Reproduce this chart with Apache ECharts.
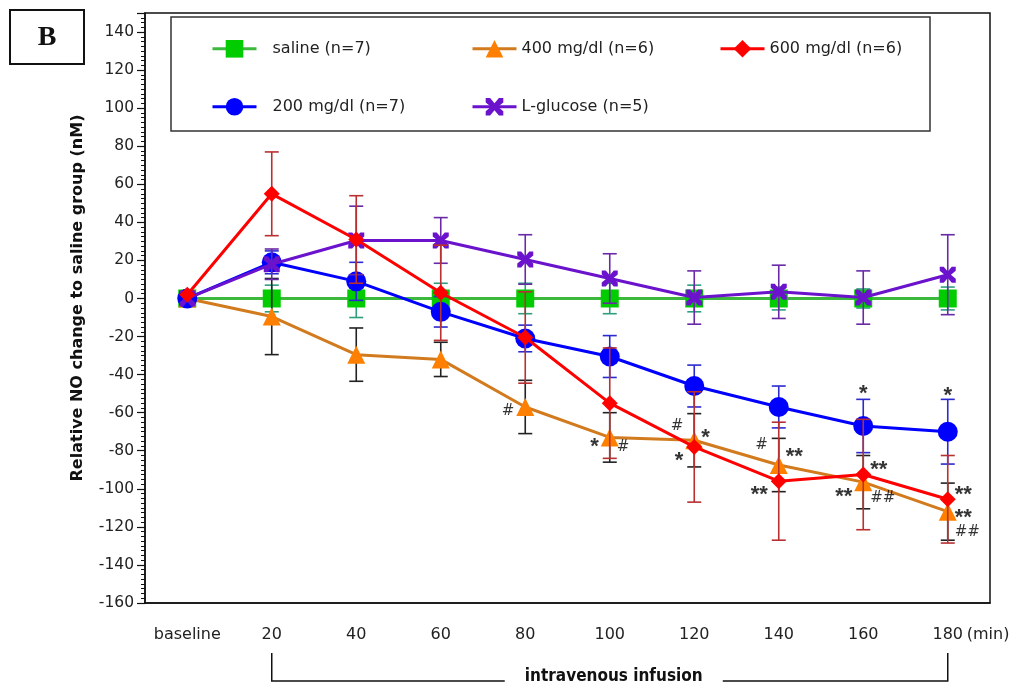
<!DOCTYPE html>
<html>
<head>
<meta charset="utf-8">
<script src="https://cdn.jsdelivr.net/npm/echarts@6/dist/echarts.min.js"></script>
<style>
  html, body { margin: 0; padding: 0; background: #fff; }
  #chart { width: 1012px; height: 685px; }
</style>
</head>
<body>
<div id="chart"></div>
<script>
// time points (min)
const categories = ['baseline', '20', '40', '60', '80', '100', '120', '140', '160', '180']

// group means (nM)
const salineVals = [0, 0, 0, 0, 0, 0, 0, 0, 0, 0]
const mg200Vals = [0, 19, 9, -7, -21, -30.5, -46, -57, -67, -70]
const mg400Vals = [0, -9.5, -29.5, -32, -57, -73, -74.5, -87.5, -96.5, -112]
const mg600Vals = [2, 55, 31, 3, -20.5, -55, -78, -96, -92.5, -105.5]
const lgluVals = [0, 18, 30.5, 30.5, 20.5, 10.5, 0.5, 3.5, 0.5, 12.5]

// error bar half lengths
const salineErr = [0, 7, 10, 8, 8, 8, 7, 6, 5, 6]
const mg200Err = [0, 6, 10, 8, 7, 11, 11, 11, 14, 17]
const mg400Err = [0, 20, 14, 9, 14, 13, 14, 14, 14, 15]
const mg600Err = [0, 22, 23, 25, 24, 29, 29, 31, 29, 23]
const lgluErr = [0, 8, 18, 12, 13, 13, 14, 14, 14, 21]

// y ticks
const yMin = -160
const yMax = 150
const yStep = 20

// significance marks: [time, value, text, side]
const annotations = [
  ['80', -59, '#', 'left'],
  ['100', -75, '*', 'left'],
  ['100', -78, '#', 'right'],
  ['120', -67, '#', 'left'],
  ['120', -70, '*', 'right'],
  ['120', -82, '*', 'left'],
  ['140', -77, '#', 'left'],
  ['140', -80, '**', 'right'],
  ['140', -100, '**', 'left'],
  ['160', -47, '*', 'inside'],
  ['160', -87, '**', 'right'],
  ['160', -101, '**', 'left'],
  ['160', -105, '##', 'right'],
  ['180', -48, '*', 'inside'],
  ['180', -100, '**', 'right'],
  ['180', -112, '**', 'right'],
  ['180', -123, '##', 'right']
]

const cond = '"DejaVu Sans Condensed", "DejaVu Sans", sans-serif'
const dejavu = '"DejaVu Sans", sans-serif'
const sans = '"Liberation Sans", Arial, sans-serif'

const xSymbol = 'path://M0,0 L5,0 L10,6 L15,0 L20,0 L20,5 L14,10 L20,15 L20,20 L15,20 L10,14 L5,20 L0,20 L0,15 L6,10 L0,5 Z'

const groups = [
  { name: 'saline (n=7)', vals: salineVals, err: salineErr, line: '#3cb83c', mark: '#00cc00', bar: '#2e9e7e', symbol: 'rect', size: 18 },
  { name: '400 mg/dl (n=6)', vals: mg400Vals, err: mg400Err, line: '#d27b1e', mark: '#ff8000', bar: '#222222', symbol: 'triangle', size: 18 },
  { name: '200 mg/dl (n=7)', vals: mg200Vals, err: mg200Err, line: '#0000ff', mark: '#0000ff', bar: '#2a2ad0', symbol: 'circle', size: 20 },
  { name: 'L-glucose (n=5)', vals: lgluVals, err: lgluErr, line: '#6a12cc', mark: '#6a12cc', bar: '#6a2aa8', symbol: xSymbol, size: 16 },
  { name: '600 mg/dl (n=6)', vals: mg600Vals, err: mg600Err, line: '#ff0000', mark: '#ff0000', bar: '#b83030', symbol: 'diamond', size: 16 }
]

function errorBarItem (color) {
  return function (params, api) {
    const x = api.value(0)
    const v = api.value(1)
    const e = api.value(2)
    if (!e) return
    const hi = api.coord([x, v + e])
    const lo = api.coord([x, v - e])
    const w = 7
    const style = { stroke: color, lineWidth: 1.6 }
    return {
      type: 'group',
      children: [
        { type: 'line', shape: { x1: hi[0], y1: hi[1], x2: lo[0], y2: lo[1] }, style: style },
        { type: 'line', shape: { x1: hi[0] - w, y1: hi[1], x2: hi[0] + w, y2: hi[1] }, style: style },
        { type: 'line', shape: { x1: lo[0] - w, y1: lo[1], x2: lo[0] + w, y2: lo[1] }, style: style }
      ]
    }
  }
}

const series = []
groups.forEach((g, i) => {
  series.push({
    type: 'custom',
    name: g.name + ' err',
    renderItem: errorBarItem(g.bar),
    encode: { x: 0, y: 1 },
    data: g.vals.map((v, k) => [k, v, g.err[k]]),
    z: 2 + i * 2
  })
})
groups.forEach((g, i) => {
  series.push({
    type: 'line',
    name: g.name,
    data: g.vals,
    symbol: g.symbol,
    symbolSize: g.size,
    showAllSymbol: true,
    lineStyle: { color: g.line, width: 3 },
    itemStyle: { color: g.mark },
    z: 3 + i * 2
  })
})

// significance marks, drawn at their data position
const markData = annotations.map(a => {
  const star = a[2].indexOf('*') >= 0
  return {
    value: [a[0], a[1]],
    text: a[2],
    label: {
      position: a[3],
      distance: a[3] === 'left' ? 11 : 7,
      fontFamily: star ? sans : dejavu,
      fontWeight: star ? 'bold' : 'normal',
      fontSize: star ? 22 : 15,
      offset: star ? [0, 6] : [0, 0]
    }
  }
})
series.push({
  type: 'scatter',
  name: 'marks',
  symbolSize: 0,
  data: markData,
  label: { show: true, color: '#000', formatter: p => p.data.text },
  z: 20
})

const legendPos = [
  { name: 'saline (n=7)', left: 206, top: 35, pad: 11 },
  { name: '400 mg/dl (n=6)', left: 466, top: 35, pad: 0 },
  { name: '600 mg/dl (n=6)', left: 714, top: 35, pad: 0 },
  { name: '200 mg/dl (n=7)', left: 206, top: 93, pad: 11 },
  { name: 'L-glucose (n=5)', left: 466, top: 93, pad: 0 }
]

const chart = echarts.init(document.getElementById('chart'))
chart.setOption({
  animation: false,
  backgroundColor: '#fff',
  grid: {
    left: 145, right: 22, top: 13, bottom: 82,
    show: true, borderColor: '#111', borderWidth: 1.5, backgroundColor: 'transparent'
  },
  legend: legendPos.map(l => ({
    data: [l.name],
    left: l.left,
    top: l.top,
    z: 40,
    itemWidth: 44,
    itemHeight: 22,
    itemGap: 0,
    selectedMode: false,
    lineStyle: { width: 3 },
    textStyle: { fontFamily: dejavu, fontSize: 16, color: '#222', padding: [0, 0, 0, l.pad] }
  })),
  xAxis: {
    type: 'category',
    data: categories,
    boundaryGap: true,
    axisLine: { onZero: false, lineStyle: { color: '#111', width: 1.5 } },
    axisTick: { alignWithLabel: true, interval: 0, length: 10, lineStyle: { color: '#111', width: 1.5 } },
    axisLabel: { interval: 0, margin: 24, fontFamily: dejavu, fontSize: 16, color: '#222' },
    splitLine: { show: false }
  },
  yAxis: {
    type: 'value',
    min: yMin,
    max: yMax,
    interval: yStep,
    axisLine: { show: true, lineStyle: { color: '#111', width: 1.5 } },
    axisTick: { show: true, length: 8, lineStyle: { color: '#111', width: 1.2 } },
    minorTick: { show: true, splitNumber: 8, length: 4, lineStyle: { color: '#111', width: 1 } },
    splitLine: { show: false },
    axisLabel: { margin: 11, fontFamily: dejavu, fontSize: 15.5, color: '#222', showMaxLabel: false,
      formatter: v => (v === yMax ? '' : String(v)) }
  },
  series: series
})

// frame decorations placed from the axis scale
const p20 = chart.convertToPixel({ xAxisIndex: 0 }, '20')
const p180 = chart.convertToPixel({ xAxisIndex: 0 }, '180')
const bracketTop = 653
const bracketBottom = 681
const mid = (p20 + p180) / 2 + 4
chart.setOption({
  graphic: [
    { type: 'rect', shape: { x: 10, y: 10, width: 74, height: 54 }, style: { fill: '#fff', stroke: '#111', lineWidth: 2 } },
    { type: 'text', x: 47, y: 38, style: { text: 'B', font: 'bold 28px "Liberation Serif", serif', fill: '#111', align: 'center', verticalAlign: 'middle' } },
    { type: 'rect', shape: { x: 171, y: 17, width: 759, height: 114 }, style: { fill: '#fff', stroke: '#333', lineWidth: 1.5 }, z: 1, silent: true },
    { type: 'text', x: 78, y: 298, rotation: Math.PI / 2,
      style: { text: 'Relative NO change to saline group (nM)', font: 'bold 16px ' + dejavu, fill: '#111', align: 'center', verticalAlign: 'middle' } },
    { type: 'text', x: p180 + 19, y: 635,
      style: { text: '(min)', font: '16px ' + dejavu, fill: '#222', align: 'left', verticalAlign: 'middle' } },
    { type: 'polyline', shape: { points: [[p20, bracketTop], [p20, bracketBottom], [mid - 109, bracketBottom]] }, style: { stroke: '#111', lineWidth: 1.5, fill: null } },
    { type: 'polyline', shape: { points: [[mid + 109, bracketBottom], [p180, bracketBottom], [p180, bracketTop]] }, style: { stroke: '#111', lineWidth: 1.5, fill: null } },
    { type: 'text', x: mid, y: 677,
      style: { text: 'intravenous infusion', font: 'bold 17px ' + cond, fill: '#111', align: 'center', verticalAlign: 'middle' } }
  ]
})
</script>
</body>
</html>
